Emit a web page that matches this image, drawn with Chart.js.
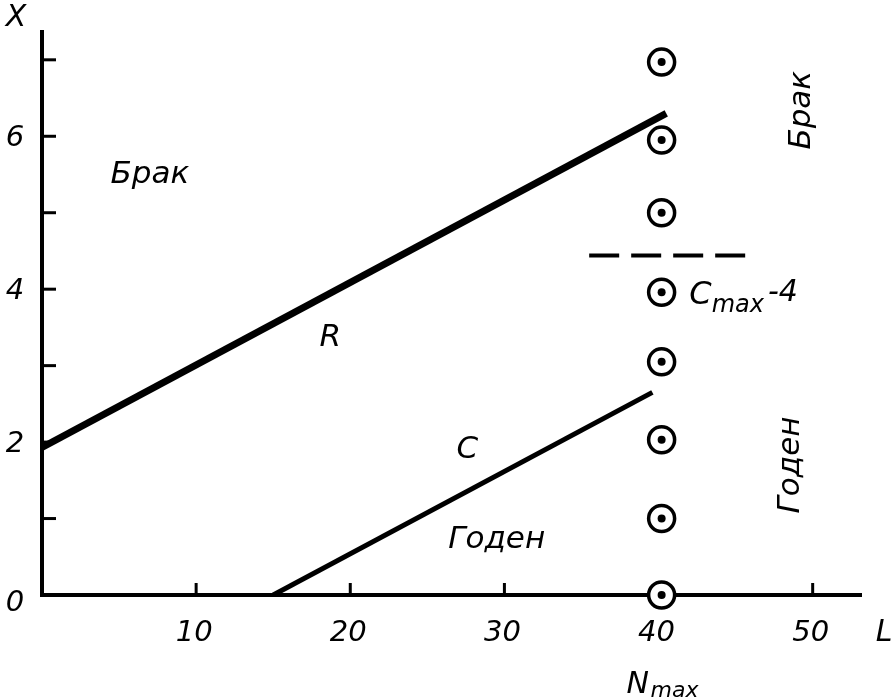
<!DOCTYPE html>
<html>
<head>
<meta charset="utf-8">
<script src="https://cdn.jsdelivr.net/npm/chart.js@4"></script>
<style>
  html, body { margin: 0; padding: 0; background: #fff; }
  #wrap { width: 896px; height: 700px; }
</style>
</head>
<body>
<div id="wrap"><canvas id="chart" width="896" height="700"></canvas></div>
<script>
// line R
const rX = [0, 40.5];
const rY = [1.93, 6.3];
// line C
const cX = [15, 39.6];
const cY = [0, 2.65];
// measured points at N max
const ptX = [40.2, 40.2, 40.2, 40.2, 40.2, 40.2, 40.2, 40.2];
const ptY = [0, 1.0, 2.03, 3.05, 3.96, 5.0, 5.95, 6.97];
// C max - 4 level
const dashX = [35.5, 46.2];
const dashY = [4.44, 4.44];

const xTicks = [10, 20, 30, 40, 50];
const yTicks = [1, 2, 3, 4, 5, 6, 7];
const yLabels = [0, 2, 4, 6];

// text notes, in data units
const notes = [
  { text: "Брак", x: 7.0, y: 5.49 },
  { text: "R", x: 18.7, y: 3.36 },
  { text: "C", x: 27.6, y: 1.9 },
  { text: "Годен", x: 29.5, y: 0.72 },
  { text: "Брак", x: 49.3, y: 6.34, rot: true },
  { text: "Годен", x: 48.6, y: 1.7, rot: true }
];

const toPts = (xs, ys) => xs.map((x, i) => ({ x: x, y: ys[i] }));
const FONT = "italic 31px 'DejaVu Sans'";

const drawStuff = {
  id: "drawStuff",
  beforeDatasetsDraw(chart) {
    const ctx = chart.ctx;
    const xs = chart.scales.x, ys = chart.scales.y;
    const x0 = xs.getPixelForValue(0), y0 = ys.getPixelForValue(0);
    ctx.save();
    ctx.strokeStyle = "#000";
    ctx.lineCap = "butt";

    // axes
    ctx.lineWidth = 4;
    ctx.beginPath();
    ctx.moveTo(x0, ys.top);
    ctx.lineTo(x0, y0);
    ctx.lineTo(xs.right, y0);
    ctx.stroke();

    // ticks inward
    ctx.lineWidth = 3;
    yTicks.forEach(v => {
      const p = ys.getPixelForValue(v);
      ctx.beginPath(); ctx.moveTo(x0, p); ctx.lineTo(x0 + 14, p); ctx.stroke();
    });
    xTicks.forEach(v => {
      const p = xs.getPixelForValue(v);
      ctx.beginPath(); ctx.moveTo(p, y0); ctx.lineTo(p, y0 - 12); ctx.stroke();
    });
    ctx.restore();
  },
  afterDraw(chart) {
    const ctx = chart.ctx;
    const xs = chart.scales.x, ys = chart.scales.y;
    const y0 = ys.getPixelForValue(0);
    ctx.save();
    ctx.fillStyle = "#000";

    // tick labels
    ctx.font = "italic 29px 'DejaVu Sans'";
    ctx.textAlign = "center";
    ctx.textBaseline = "middle";
    yLabels.forEach(v => {
      ctx.fillText(String(v), 15, ys.getPixelForValue(v) + (v === 0 ? 8 : 2));
    });
    xTicks.forEach(v => {
      ctx.fillText(String(v), xs.getPixelForValue(v) - 2, y0 + 38);
    });

    // axis titles
    ctx.font = "italic 30px 'DejaVu Sans'";
    ctx.fillText("X", 16, 18);
    ctx.fillText("L", 884, y0 + 38);
    ctx.textAlign = "left";
    let nx = xs.getPixelForValue(40) - 32;
    ctx.fillText("N", nx, y0 + 90);
    ctx.font = "italic 22px 'DejaVu Sans'";
    ctx.fillText("max", nx + 24, y0 + 96);

    // notes
    ctx.font = FONT;
    ctx.textAlign = "center";
    notes.forEach(n => {
      const px = xs.getPixelForValue(n.x), py = ys.getPixelForValue(n.y);
      ctx.save();
      ctx.translate(px, py);
      if (n.rot) ctx.rotate(-Math.PI / 2);
      ctx.fillText(n.text, 0, 0);
      ctx.restore();
    });

    // C max - 4
    let cx = xs.getPixelForValue(42.0), cy = ys.getPixelForValue(3.92);
    ctx.textAlign = "left";
    ctx.font = "italic 32px 'DejaVu Sans'";
    ctx.fillText("C", cx, cy);
    cx += ctx.measureText("C").width;
    ctx.font = "italic 24px 'DejaVu Sans'";
    ctx.fillText("max", cx, cy + 10);
    cx += ctx.measureText("max").width + 4;
    ctx.font = "italic 30px 'DejaVu Sans'";
    ctx.fillText("-4", cx, cy - 2);
    ctx.restore();
  }
};

new Chart(document.getElementById("chart"), {
  type: "scatter",
  data: {
    datasets: [
      { data: toPts(rX, rY), showLine: true, borderColor: "#000", borderWidth: 7, pointRadius: 0, order: 5 },
      { data: toPts(cX, cY), showLine: true, borderColor: "#000", borderWidth: 5, pointRadius: 0, order: 4 },
      { data: toPts(dashX, dashY), showLine: true, borderColor: "#000", borderWidth: 4, borderDash: [30, 12], pointRadius: 0, order: 3 },
      { data: toPts(ptX, ptY), showLine: false, pointRadius: 13, pointBorderWidth: 3.5, clip: false,
        pointBorderColor: "#000", pointBackgroundColor: "#fff", order: 2 },
      { data: toPts(ptX, ptY), showLine: false, pointRadius: 4, pointBorderWidth: 0, clip: false,
        pointBorderColor: "#000", pointBackgroundColor: "#000", order: 1 }
    ]
  },
  options: {
    responsive: false,
    animation: false,
    layout: { padding: { top: 30, right: 34, left: 0, bottom: 0 } },
    plugins: { legend: { display: false }, tooltip: { enabled: false } },
    scales: {
      x: {
        type: "linear", min: 0, max: 53.2,
        grid: { display: false }, border: { display: false },
        ticks: { display: false },
        afterFit: s => { s.height = 105; }
      },
      y: {
        type: "linear", min: 0, max: 7.39,
        grid: { display: false }, border: { display: false },
        ticks: { display: false },
        afterFit: s => { s.width = 42; }
      }
    }
  },
  plugins: [drawStuff]
});
</script>
</body>
</html>
